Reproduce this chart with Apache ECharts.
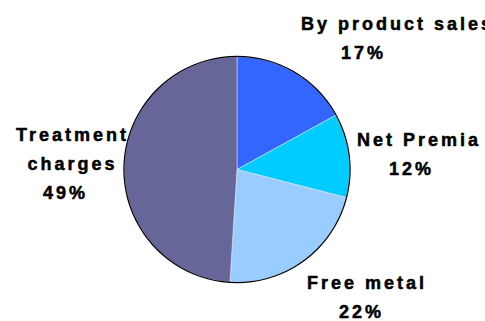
<!DOCTYPE html>
<html>
<head>
<meta charset="utf-8">
<script src="https://cdn.jsdelivr.net/npm/echarts@6/dist/echarts.min.js"></script>
<style>
  html, body { margin: 0; padding: 0; background: #fff; }
  #chart { width: 485px; height: 321px; }
  /* wide tracking on the slice labels */
  #chart text { letter-spacing: 3px; }
</style>
</head>
<body>
<div id="chart"></div>
<script>
// Revenue breakdown, percent of total
const categories = ['By product sales', 'Net Premia', 'Free metal', 'Treatment\ncharges'];
const shares = [17, 12, 22, 49];
const colors = ['#3366FF', '#00CCFF', '#99CCFF', '#666699'];

// Label anchors [x, y, align] and the nudge of the percent line (px of padding)
const labelAnchors = [
  [301, 38, 'left'],
  [419, 154, 'center'],
  [367, 297.5, 'center'],
  [72.5, 163.5, 'center']
];
const pctPad = [[0, 0, 0, 40], [0, 15, 0, 0], [0, 11, 0, 0], [0, 14, 0, 0]];

const PIE_CENTER = [237, 169.5];
const PIE_R = 113;

const chart = echarts.init(document.getElementById('chart'), null, { renderer: 'svg' });

const labelFont = {
  fontFamily: 'Liberation Sans',
  fontWeight: 'bold',
  fontSize: 18,
  color: '#000',
  textBorderColor: '#000',
  textBorderWidth: 0.5,
  lineHeight: 29
};

const pieData = categories.map((name, i) => ({
  name: name,
  value: shares[i],
  itemStyle: { color: colors[i] },
  label: {
    rich: {
      n: Object.assign({}, labelFont),
      p: Object.assign({ padding: pctPad[i] }, labelFont)
    }
  }
}));

chart.setOption({
  animation: false,
  backgroundColor: '#fff',
  series: [
    {
      type: 'pie',
      center: PIE_CENTER,
      radius: PIE_R,
      startAngle: 90,
      clockwise: true,
      silent: true,
      avoidLabelOverlap: false,
      itemStyle: { borderColor: 'rgba(230,230,240,0.9)', borderWidth: 0.6 },
      labelLine: { show: false },
      label: {
        show: true,
        position: 'outside',
        overflow: 'none',
        width: 400,
        formatter: p => p.name.split('\n').map(s => '{n|' + s + '}').join('\n') + '\n{p|' + p.value + '%}'
      },
      labelLayout: params => {
        const a = labelAnchors[params.dataIndex];
        return { x: a[0], y: a[1], align: a[2], verticalAlign: 'middle' };
      },
      data: pieData
    },
    {
      // thin dark outline round the disc
      type: 'pie',
      center: PIE_CENTER,
      radius: [PIE_R - 0.5, PIE_R + 0.7],
      silent: true,
      label: { show: false },
      labelLine: { show: false },
      itemStyle: { color: '#000', borderWidth: 0 },
      data: [1]
    }
  ]
});
</script>
</body>
</html>
